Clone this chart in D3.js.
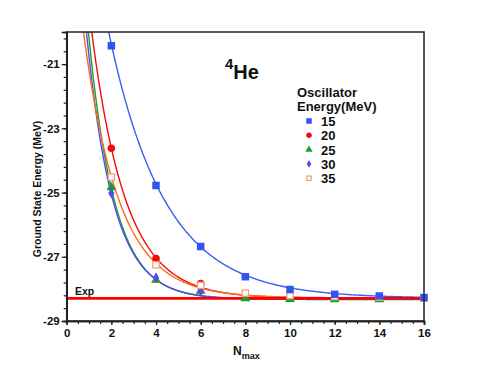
<!DOCTYPE html>
<meta charset="utf-8">
<title>4He ground state energy</title>
<style>
  body { margin: 0; background: #fff; }
  text { font-family: "Liberation Sans", Arial, sans-serif; font-weight: bold; fill: #111; }
</style>
<body>
<svg width="491" height="379"></svg>
<script src="https://cdn.jsdelivr.net/npm/d3@7"></script>
<script>
// values
const hwLabels = ["15", "20", "25", "30", "35"];
const nmax15 = [2, 4, 6, 8, 10, 12, 14, 16];
const e15 = [-20.43, -24.78, -26.68, -27.62, -28.02, -28.17, -28.22, -28.27];
const nmax20 = [2, 4, 6];
const e20 = [-23.62, -27.05, -27.83];
const nmax25 = [2, 4, 6, 8, 10, 12, 14];
const e25 = [-24.84, -27.72, -28.06, -28.3, -28.32, -28.33, -28.33];
const nmax30 = [2, 4, 6];
const e30 = [-25.02, -27.65, -28.08];
const nmax35 = [2, 4, 6, 8, 10, 12, 14, 16];
const e35 = [-24.52, -27.25, -27.89, -28.13, -28.21, -28.24, -28.26, -28.28];
// exponential fit E = inf + amp*exp(-rate*N), parameters estimated from the curves
const fitInf = [-28.29, -28.29, -28.33, -28.32, -28.28];
const fitAmp = [17.6, 17.3, 19.2, 17.5, 13.3];
const fitRate = [0.40, 0.655, 0.858, 0.84, 0.63];
const expValue = -28.296;
const xTicks = [0, 2, 4, 6, 8, 10, 12, 14, 16];
const yTicks = [-29, -27, -25, -23, -21];

const lineColors = ["#3a5ff2", "#f20c0c", "#1f9e1f", "#4f4cf2", "#ff6a1c"];
const markColors = ["#2f55ee", "#f20c0c", "#1f9e1f", "#5a48ee", "#f59a7a"];
const markShapes = ["square", "circle", "triangle", "diamond", "open"];

const series = [
  {n: nmax15, e: e15}, {n: nmax20, e: e20}, {n: nmax25, e: e25},
  {n: nmax30, e: e30}, {n: nmax35, e: e35}
];

const svg = d3.select("svg");
const L = 66.7, R = 424, T = 32, B = 321;
const x = d3.scaleLinear().domain([0, 16]).range([L, R]);
const y = d3.scaleLinear().domain([-29, -20]).range([B, T]);

svg.append("clipPath").attr("id", "clip")
  .append("rect").attr("x", L).attr("y", T).attr("width", R - L).attr("height", B - T);

// fit curves
const plot = svg.append("g").attr("clip-path", "url(#clip)");
const line = d3.line().x(d => x(d[0])).y(d => y(d[1]));
series.forEach(function(s, i) {
  const pts = d3.range(0.3, 16.01, 0.05).map(n => [n, fitInf[i] + fitAmp[i] * Math.exp(-fitRate[i] * n)]);
  plot.append("path").datum(pts).attr("d", line)
    .attr("fill", "none").attr("stroke", lineColors[i]).attr("stroke-width", 1.4);
});

// experimental value
plot.append("line").attr("x1", L).attr("x2", R).attr("y1", y(expValue)).attr("y2", y(expValue))
  .attr("stroke", "#ff0000").attr("stroke-width", 2.6);
svg.append("text").attr("x", 75).attr("y", 295).attr("font-size", 10.5).text("Exp");

function drawMark(g, shape, color, cx, cy, sz) {
  if (shape === "square") {
    g.append("rect").attr("x", cx - sz / 2).attr("y", cy - sz / 2).attr("width", sz).attr("height", sz).attr("fill", color);
  } else if (shape === "circle") {
    g.append("circle").attr("cx", cx).attr("cy", cy).attr("r", sz / 2).attr("fill", color);
  } else if (shape === "triangle") {
    g.append("path").attr("d", d3.symbol(d3.symbolTriangle, sz * sz * 0.75)()).attr("transform", `translate(${cx},${cy})`).attr("fill", color);
  } else if (shape === "diamond") {
    g.append("path").attr("d", d3.symbol(d3.symbolDiamond, sz * sz * 0.6)()).attr("transform", `translate(${cx},${cy})`).attr("fill", color);
  } else {
    g.append("rect").attr("x", cx - sz / 2 + 0.6).attr("y", cy - sz / 2 + 0.6).attr("width", sz - 1.2).attr("height", sz - 1.2)
      .attr("fill", "#fff").attr("stroke", color).attr("stroke-width", 1.2);
  }
}

// data points
const marks = svg.append("g");
const order = [2, 3, 1, 4, 0];
order.forEach(function(i) {
  series[i].n.forEach(function(n, k) {
    drawMark(marks, markShapes[i], markColors[i], x(n), y(series[i].e[k]), 7.5);
  });
});

// frame
svg.append("rect").attr("x", L).attr("y", T).attr("width", R - L).attr("height", B - T)
  .attr("fill", "none").attr("stroke", "#222").attr("stroke-width", 1.5);

// axes
const xAxis = svg.append("g").attr("transform", `translate(0,${B})`)
  .call(d3.axisBottom(x).tickValues(xTicks).tickFormat(d => String(d)).tickSize(4).tickPadding(3));
const xMinor = svg.append("g").attr("transform", `translate(0,${B})`)
  .call(d3.axisBottom(x).tickValues(d3.range(0, 16.01, 0.5)).tickFormat("").tickSize(3));
const yAxis = svg.append("g").attr("transform", `translate(${L},0)`)
  .call(d3.axisLeft(y).tickValues(yTicks).tickFormat(d => String(d)).tickSize(5).tickPadding(2));
const yMinor = svg.append("g").attr("transform", `translate(${L},0)`)
  .call(d3.axisLeft(y).tickValues(d3.range(-29, -19.99, 0.4)).tickFormat("").tickSize(3));
[xAxis, xMinor, yAxis, yMinor].forEach(function(a) {
  a.select(".domain").attr("stroke", "#222").attr("stroke-width", 1.5);
  a.selectAll(".tick line").attr("stroke", "#222").attr("stroke-width", 1.2);
  a.selectAll("text").attr("font-size", 11.5).attr("font-family", "Liberation Sans, Arial, sans-serif")
    .attr("font-weight", "bold").attr("fill", "#111");
});
xAxis.selectAll("text").attr("dy", "0.75em").attr("y", 7);

// axis titles
svg.append("text").attr("transform", "translate(41,189) rotate(-90)").attr("text-anchor", "middle")
  .attr("font-size", 10.5).text("Ground State Energy (MeV)");
const xt = svg.append("text").attr("x", 233).attr("y", 355).attr("font-size", 12);
xt.append("tspan").text("N");
xt.append("tspan").attr("dy", 4).attr("font-size", 9).text("max");

// title
const tt = svg.append("text").attr("x", 225).attr("y", 79).attr("font-size", 20);
tt.append("tspan").attr("font-size", 15).attr("dy", -10).text("4");
tt.append("tspan").attr("dy", 10).text("He");

// legend
svg.append("text").attr("x", 297).attr("y", 97).attr("font-size", 13).text("Oscillator");
svg.append("text").attr("x", 297).attr("y", 111).attr("font-size", 13).text("Energy(MeV)");
const lg = svg.append("g");
hwLabels.forEach(function(lab, i) {
  const yy = 121 + i * 14.3;
  drawMark(lg, markShapes[i], markColors[i], 309, yy, 5.5);
  lg.append("text").attr("x", 321).attr("y", yy + 5).attr("font-size", 13).text(lab);
});
</script>
</body>
